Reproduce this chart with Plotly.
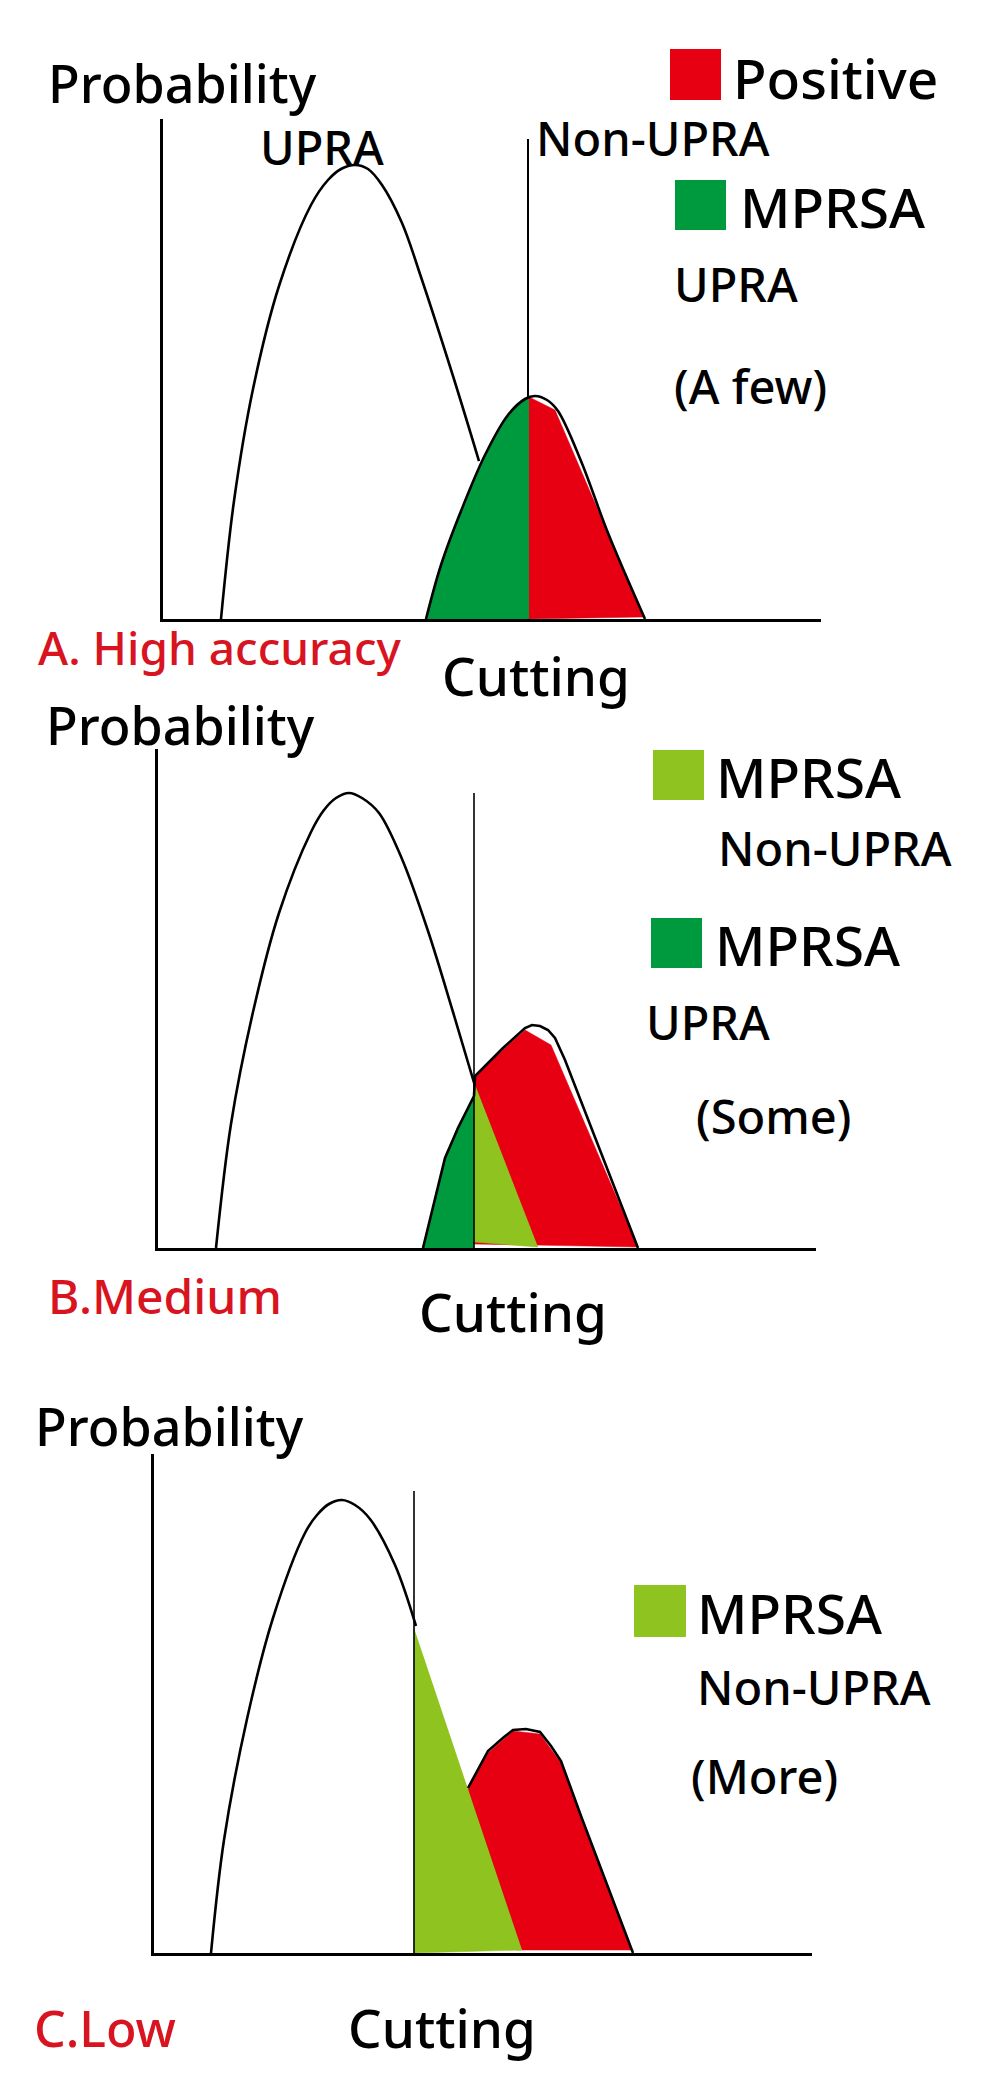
import plotly.graph_objects as go

W, H = 1007, 2076

# ---------------- data (panel units: x right of y-axis, y above x-axis) ----------------
# Panel A: High accuracy
A_UPRA_X = [58, 71, 90, 116, 148, 165, 178, 192, 205, 219, 239, 258, 290, 316]
A_UPRA_Y = [0, 118, 230, 333, 414, 439, 450, 454, 450, 434, 396, 342, 243, 158]
A_NON_X = [263, 278, 298, 322, 345, 362, 372, 384, 395, 418, 445, 482]
A_NON_Y = [0, 54, 108, 164, 204, 220, 223, 219, 208, 158, 86, 0]
A_GREEN_X = [263, 278, 298, 322, 345, 360, 366, 366]
A_GREEN_Y = [0, 54, 108, 164, 204, 219, 222, 0]
A_RED_X = [366, 392, 481, 366]
A_RED_Y = [222, 209, 2, 0]
A_CUT_X = [365, 365]
A_CUT_Y = [0, 480]

# Panel B: Medium
B_UPRA_X = [58, 73, 95, 121, 153, 166, 178, 191, 204, 221, 244, 270, 295, 317]
B_UPRA_Y = [0, 124, 236, 335, 416, 438, 450, 455, 450, 435, 389, 317, 236, 162]
B_NON_X = [265, 287, 300, 316, 317, 345, 367, 374, 382, 390, 397, 407, 480]
B_NON_Y = [0, 90, 120, 152, 172, 200, 220, 223, 222, 218, 210, 188, 0]
B_DGREEN_X = [265, 287, 300, 316, 316]
B_DGREEN_Y = [0, 90, 122, 152, 0]
B_RED_X = [316, 367, 393, 480, 316]
B_RED_Y = [172, 218, 203, 1, 4]
B_LGREEN_X = [316, 316, 380]
B_LGREEN_Y = [166, 6, 1]
B_CUT_X = [316, 316]
B_CUT_Y = [0, 455]

# Panel C: Low
C_UPRA_X = [57, 70, 93, 119, 151, 163, 175, 188, 201, 216, 241, 262]
C_UPRA_Y = [0, 113, 234, 335, 420, 438, 449, 453, 448, 434, 388, 327]
C_NON_X = [314, 334, 350, 359, 372, 386, 397, 407, 427, 479]
C_NON_Y = [165, 202, 216, 223, 224, 221, 207, 192, 137, 0]
C_RED_X = [312, 334, 359, 386, 407, 427, 477, 362]
C_RED_Y = [160, 200, 222, 219, 190, 135, 3, 3]
C_LGREEN_X = [260, 260, 368]
C_LGREEN_Y = [325, 0, 3]
C_CUT_X = [260, 260]
C_CUT_Y = [0, 462]

# ---------------- style ----------------
RED = "#e60012"
DGREEN = "#009a3e"
LGREEN = "#8fc31f"
LABEL_RED = "#d7141f"
FONT = "Noto Sans"
WEIGHT = 500

fig = go.Figure()

# panel geometry in page pixels: (left, right, top, bottom)
PANELS = [(155, 813, 111, 611), (150, 808, 741, 1240), (146, 804, 1446, 1945)]


def ax_names(i):
    s = "" if i == 0 else str(i + 1)
    return "x" + s, "y" + s


def line(i, xs, ys, width=2.6, color="black", shape="linear"):
    xa, ya = ax_names(i)
    fig.add_trace(go.Scatter(x=xs, y=ys, mode="lines", xaxis=xa, yaxis=ya,
                             line=dict(color=color, width=width, shape=shape),
                             hoverinfo="skip", showlegend=False))


def area(i, xs, ys, color):
    xa, ya = ax_names(i)
    fig.add_trace(go.Scatter(x=xs, y=ys, mode="lines", xaxis=xa, yaxis=ya,
                             fill="toself", fillcolor=color,
                             line=dict(color=color, width=0.5),
                             hoverinfo="skip", showlegend=False))


# Panel A
line(0, A_CUT_X, A_CUT_Y, width=2)
line(0, A_UPRA_X, A_UPRA_Y, shape="spline")
area(0, A_GREEN_X, A_GREEN_Y, DGREEN)
area(0, A_RED_X, A_RED_Y, RED)
line(0, A_NON_X, A_NON_Y, shape="spline")

# Panel B
line(1, B_UPRA_X, B_UPRA_Y, shape="spline")
area(1, B_RED_X, B_RED_Y, RED)
area(1, B_DGREEN_X, B_DGREEN_Y, DGREEN)
area(1, B_LGREEN_X, B_LGREEN_Y, LGREEN)
line(1, B_NON_X, B_NON_Y)
line(1, B_CUT_X, B_CUT_Y, width=1.6)

# Panel C
line(2, C_UPRA_X, C_UPRA_Y, shape="spline")
area(2, C_RED_X, C_RED_Y, RED)
area(2, C_LGREEN_X, C_LGREEN_Y, LGREEN)
line(2, C_NON_X, C_NON_Y)
line(2, C_CUT_X, C_CUT_Y, width=1.6)

layout = dict(width=W, height=H, margin=dict(l=0, r=0, t=0, b=0),
              paper_bgcolor="white", plot_bgcolor="white", showlegend=False)
for i, (l, r, t, b) in enumerate(PANELS):
    s = "" if i == 0 else str(i + 1)
    xa, ya = ax_names(i)
    common = dict(showgrid=False, zeroline=False, showticklabels=False, ticks="",
                  showline=True, linecolor="black", linewidth=2.6, fixedrange=True)
    layout["xaxis" + s] = dict(domain=[l / W, r / W], range=[0, r - l], anchor=ya, **common)
    layout["yaxis" + s] = dict(domain=[1 - b / H, 1 - t / H], range=[0, b - t], anchor=xa, **common)
fig.update_layout(**layout)

# ---------------- text labels: (text, left px, baseline px, size, color) ----------------
LABELS = [
    ("Probability", 38, 95, 52, "black"),
    ("UPRA", 250, 157, 47, "black"),
    ("Non-UPRA", 526, 148, 47, "black"),
    ("Positive", 723, 91, 55, "black"),
    ("MPRSA", 730, 220, 55, "black"),
    ("UPRA", 664, 294, 47, "black"),
    ("(A few)", 664, 396, 47, "black"),
    ("A. High accuracy", 28, 657, 46, LABEL_RED),
    ("Cutting", 432, 688, 53, "black"),

    ("Probability", 36, 737, 52, "black"),
    ("MPRSA", 706, 790, 55, "black"),
    ("Non-UPRA", 708, 858, 47, "black"),
    ("MPRSA", 705, 958, 55, "black"),
    ("UPRA", 636, 1032, 47, "black"),
    ("(Some)", 686, 1126, 47, "black"),
    ("B.Medium", 38, 1306, 48, LABEL_RED),
    ("Cutting", 409, 1324, 53, "black"),

    ("Probability", 25, 1438, 52, "black"),
    ("MPRSA", 687, 1626, 55, "black"),
    ("Non-UPRA", 687, 1697, 47, "black"),
    ("(More)", 681, 1786, 47, "black"),
    ("C.Low", 24, 2039, 50, LABEL_RED),
    ("Cutting", 338, 2040, 53, "black"),
]
for text, x, base, size, color in LABELS:
    cy = base - 0.388 * size
    fig.add_annotation(text=text, x=x / W, y=1 - cy / H, xref="paper", yref="paper",
                       xanchor="left", yanchor="middle", showarrow=False,
                       font=dict(family=FONT, size=size, color=color, weight=WEIGHT))

# legend swatches: (left, top, right, bottom, colour)
SWATCHES = [
    (662, 41, 713, 92, RED),
    (667, 172, 718, 222, DGREEN),
    (645, 742, 696, 792, LGREEN),
    (643, 910, 694, 960, DGREEN),
    (626, 1577, 678, 1629, LGREEN),
]
for l, t, r, b, c in SWATCHES:
    fig.add_shape(type="rect", xref="paper", yref="paper",
                  x0=l / W, x1=r / W, y0=1 - b / H, y1=1 - t / H,
                  fillcolor=c, line=dict(width=0))

fig.write_html("out.html")
